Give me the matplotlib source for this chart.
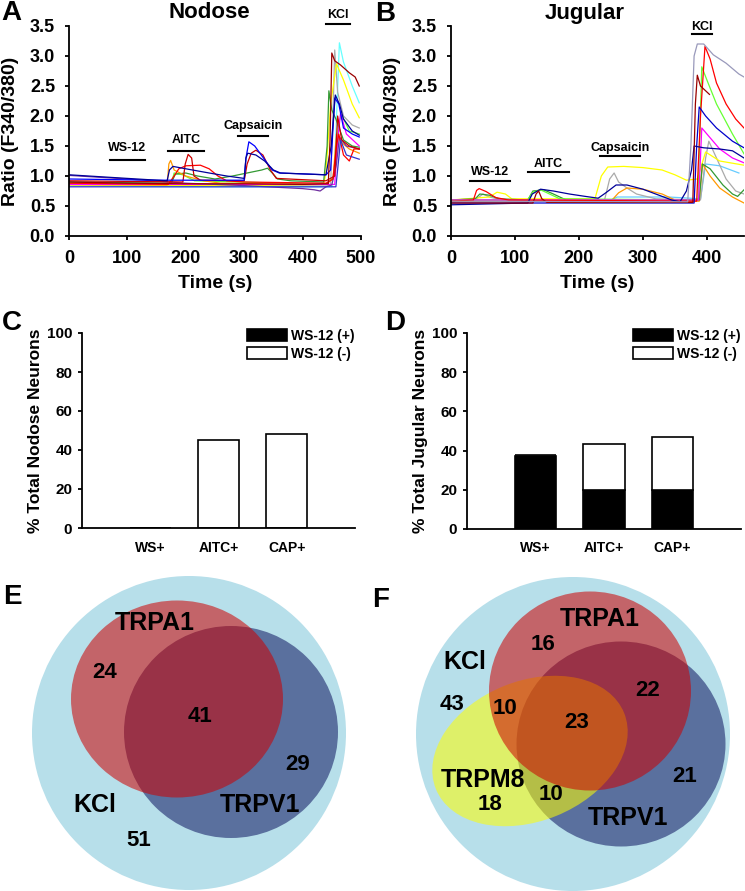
import matplotlib
matplotlib.use('Agg')
import matplotlib.pyplot as plt
from matplotlib.patches import Ellipse, Patch

plt.rcParams['font.family'] = ['Liberation Sans', 'DejaVu Sans']
plt.rcParams['font.weight'] = 'bold'
plt.rcParams['axes.labelweight'] = 'bold'

W, H = 745, 891

# ---- calcium traces, (time s, ratio) ----
nod_darkred = [(0, 0.90), (100, 0.88), (200, 0.87), (300, 0.87), (400, 0.86), (444, 0.87), (447, 1.6),
               (450, 3.05), (455, 2.92), (465, 2.85), (480, 2.72), (490, 2.65), (497, 2.5)]
nod_red = [(0, 0.88), (170, 0.86), (180, 1.0), (188, 1.12), (200, 1.17), (225, 1.18), (240, 1.12), (255, 1.0),
           (270, 0.92), (300, 0.9), (440, 0.88), (452, 0.95), (458, 1.5), (462, 1.7), (470, 1.35), (480, 1.25),
           (488, 1.45), (497, 1.45)]
nod_firebrick = [(0, 0.92), (195, 0.9), (199, 1.2), (204, 1.36), (210, 1.3), (214, 1.0), (225, 0.93), (300, 0.92),
                 (305, 1.2), (312, 1.38), (320, 1.43), (332, 1.35), (345, 1.1), (355, 0.96), (440, 0.92),
                 (455, 1.0), (460, 2.0), (467, 1.6), (480, 1.5), (497, 1.45)]
nod_orange = [(0, 0.86), (168, 0.85), (171, 1.2), (174, 1.26), (180, 1.1), (200, 1.0), (230, 0.92), (260, 0.88),
              (440, 0.86), (452, 0.95), (458, 1.7), (468, 1.55), (480, 1.45), (497, 1.38)]
nod_yellow = [(0, 0.85), (300, 0.84), (436, 0.86), (440, 1.05), (448, 2.2), (458, 2.87), (470, 2.6), (485, 2.2),
              (497, 1.97)]
nod_cyan = [(0, 0.83), (200, 0.82), (450, 0.82), (455, 1.2), (463, 3.22), (470, 2.9), (485, 2.5), (497, 2.22)]
nod_gray = [(0, 0.85), (200, 0.84), (448, 0.85), (452, 2.0), (455, 3.1), (460, 2.4), (470, 2.0), (485, 1.85),
            (497, 1.8)]
nod_blue = [(0, 0.95), (150, 0.93), (300, 0.93), (303, 1.3), (308, 1.57), (318, 1.5), (333, 1.3), (348, 1.1),
            (360, 1.05), (440, 1.02), (448, 1.1), (455, 2.3), (462, 2.2), (470, 1.8), (485, 1.7), (497, 1.65)]
nod_navy = [(0, 1.02), (100, 0.96), (168, 0.92), (172, 1.1), (178, 1.16), (200, 1.12), (240, 1.05), (270, 1.0),
            (300, 0.96), (303, 1.3), (306, 1.38), (320, 1.35), (335, 1.25), (350, 1.1), (362, 1.05), (440, 1.02),
            (449, 1.5), (456, 2.35), (463, 2.2), (470, 1.95), (485, 1.75), (497, 1.68)]
nod_green = [(0, 0.9), (175, 0.88), (182, 1.03), (200, 1.05), (220, 1.0), (250, 0.95), (280, 1.0), (300, 1.04),
             (330, 1.1), (340, 1.13), (348, 1.05), (357, 0.95), (380, 0.92), (436, 0.9), (442, 1.5), (445, 2.42),
             (450, 2.1), (457, 1.95), (470, 1.6), (485, 1.5), (497, 1.48)]
nod_lime = [(0, 0.87), (175, 0.86), (180, 1.05), (195, 1.02), (215, 0.92), (440, 0.86), (455, 1.0), (462, 1.9),
            (467, 2.02), (480, 1.75), (497, 1.7)]
nod_purple = [(0, 1.01), (100, 0.95), (200, 0.88), (300, 0.84), (400, 0.79), (420, 0.77), (430, 0.75),
              (440, 0.82), (450, 0.85), (458, 1.2), (463, 1.65), (475, 1.5), (497, 1.45)]
nod_magenta = [(0, 0.86), (455, 0.86), (460, 1.6), (465, 2.05), (475, 1.7), (497, 1.5)]
nod_blue2 = [(0, 0.82), (457, 0.82), (462, 1.3), (465, 1.6), (475, 1.35), (497, 1.28)]

jug_lavender = [(0, 0.58), (370, 0.57), (375, 1.5), (380, 3.0), (385, 3.2), (395, 3.2), (410, 3.02), (430, 2.88),
                (450, 2.7), (458, 2.65)]
jug_red = [(0, 0.58), (35, 0.6), (40, 0.76), (44, 0.79), (55, 0.74), (70, 0.64), (90, 0.6), (384, 0.58),
           (390, 2.0), (397, 3.16), (405, 2.95), (415, 2.55), (430, 2.2), (445, 1.95), (458, 1.8)]
jug_lime = [(0, 0.6), (120, 0.6), (128, 0.73), (140, 0.77), (150, 0.72), (170, 0.62), (386, 0.6), (392, 2.82),
            (400, 2.6), (415, 2.2), (440, 1.7), (458, 1.37)]
jug_darkred = [(0, 0.55), (128, 0.55), (133, 0.7), (137, 0.75), (142, 0.62), (150, 0.56), (378, 0.56),
               (382, 2.2), (385, 2.68), (390, 2.5), (398, 2.42), (404, 2.36)]
jug_blue = [(0, 0.55), (380, 0.55), (384, 1.5), (388, 2.15), (398, 2.0), (415, 1.8), (440, 1.58), (458, 1.47)]
jug_navy = [(0, 0.52), (120, 0.55), (127, 0.7), (140, 0.78), (160, 0.75), (185, 0.7), (210, 0.66), (230, 0.63),
            (242, 0.72), (258, 0.85), (275, 0.85), (300, 0.78), (320, 0.7), (345, 0.6), (358, 0.57), (368, 0.75),
            (376, 1.1), (380, 1.5), (395, 1.47), (420, 1.45), (440, 1.42), (458, 1.3)]
jug_magenta = [(0, 0.6), (387, 0.6), (392, 1.8), (400, 1.7), (420, 1.45), (440, 1.3), (458, 1.22)]
jug_yellow = [(0, 0.6), (60, 0.65), (72, 0.73), (85, 0.7), (95, 0.62), (225, 0.62), (235, 1.0), (245, 1.15),
              (270, 1.16), (300, 1.14), (330, 1.1), (350, 1.02), (368, 0.93), (385, 0.95), (398, 1.4), (420, 1.25),
              (458, 1.18)]
jug_gray = [(0, 0.6), (40, 0.62), (50, 0.7), (60, 0.65), (80, 0.6), (240, 0.6), (248, 0.95), (255, 1.05),
            (262, 0.9), (275, 0.8), (290, 0.7), (320, 0.62), (390, 0.6), (398, 1.3), (403, 1.58), (415, 1.3),
            (430, 0.95), (445, 0.75), (458, 0.7)]
jug_cyan = [(0, 0.6), (250, 0.6), (260, 0.65), (340, 0.65), (390, 0.62), (398, 1.2), (420, 1.17), (450, 1.05)]
jug_green = [(0, 0.6), (38, 0.62), (45, 0.7), (60, 0.68), (75, 0.62), (120, 0.6), (128, 0.75), (145, 0.77),
             (160, 0.7), (180, 0.6), (388, 0.6), (393, 1.2), (405, 1.12), (425, 0.85), (440, 0.7), (448, 0.66),
             (458, 0.77)]
jug_orange = [(0, 0.58), (250, 0.58), (262, 0.72), (275, 0.8), (300, 0.78), (330, 0.7), (350, 0.6), (388, 0.58),
              (393, 1.2), (405, 1.0), (420, 0.8), (440, 0.65), (458, 0.55)]

nodose_traces = [(nod_cyan, '#66ffff'), (nod_gray, '#aaaaaa'), (nod_yellow, '#ffff00'), (nod_lime, '#66ff33'),
                 (nod_green, '#339933'), (nod_orange, '#ff9900'), (nod_magenta, '#ff00ff'),
                 (nod_purple, '#7030a0'), (nod_red, '#ff0000'), (nod_firebrick, '#cc0000'),
                 (nod_blue2, '#3333cc'), (nod_blue, '#0000ff'), (nod_navy, '#000099'), (nod_darkred, '#990000')]
jugular_traces = [(jug_cyan, '#66ccff'), (jug_gray, '#aaaaaa'), (jug_yellow, '#ffff00'), (jug_orange, '#ff9900'),
                  (jug_green, '#339933'), (jug_lime, '#66ff33'), (jug_magenta, '#ff00ff'), (jug_red, '#ff0000'),
                  (jug_blue, '#0000cc'), (jug_navy, '#000099'), (jug_darkred, '#990000'),
                  (jug_lavender, '#9999bb')]

# drug application bars: (label, start, end, bar y, label y)
nod_drugs = [('WS-12', 70, 130, 1.27, 1.47), ('AITC', 170, 231, 1.42, 1.60),
             ('Capsaicin', 290, 341, 1.67, 1.83), ('KCl', 440, 481, 3.53, 3.68)]
jug_drugs = [('WS-12', 30, 92, 0.92, 1.07), ('AITC', 120, 185, 1.06, 1.20),
             ('Capsaicin', 233, 296, 1.33, 1.47), ('KCl', 376, 408, 3.37, 3.48)]

# ---- bar charts ----
groups = ['WS+', 'AITC+', 'CAP+']
nod_ws_pos = [0, 0, 0]
nod_ws_neg = [0, 45, 48]
jug_ws_pos = [37.5, 20, 20]
jug_ws_neg = [0, 23.6, 26.7]

# ---- Venn counts ----
venn_e = {'TRPA1': 24, 'both': 41, 'TRPV1': 29, 'KCl': 51}
venn_f = {'TRPA1': 16, 'A1V1': 22, 'KCl': 43, 'A1M8': 10, 'all': 23, 'TRPV1': 21, 'TRPM8': 18, 'M8V1': 10}


def box(l, t, r, b):
    return [l / W, 1 - b / H, (r - l) / W, (b - t) / H]


fig = plt.figure(figsize=(W / 100, H / 100), dpi=100)


def trace_panel(rect, traces, drugs, xmax, title, title_x):
    ax = fig.add_axes(rect)
    for pts, c in traces:
        ax.plot([p[0] for p in pts], [p[1] for p in pts], color=c, lw=0.9)
    for name, t0, t1, yb, yl in drugs:
        ax.plot([t0, t1], [yb, yb], color='black', lw=1.5, clip_on=False)
        ax.text((t0 + t1) / 2, yl, name, ha='center', va='center', fontsize=9, fontweight='bold')
    ax.set_xlim(0, xmax)
    ax.set_ylim(0, 3.5)
    ax.set_xticks(range(0, int(xmax) + 1, 100))
    ax.set_yticks([0, 0.5, 1, 1.5, 2, 2.5, 3, 3.5])
    ax.set_yticklabels(['%.1f' % v for v in ax.get_yticks()])
    for s in ['top', 'right']:
        ax.spines[s].set_visible(False)
    for s in ['left', 'bottom']:
        ax.spines[s].set_linewidth(1.3)
    ax.tick_params(direction='out', length=3, width=1.3, labelsize=13, pad=7)
    ax.set_xlabel('Time (s)', fontsize=14, labelpad=6)
    ax.set_ylabel('Ratio (F340/380)', fontsize=14, labelpad=8)
    fig.text(title_x / W, 1 - 13 / H, title, ha='center', va='center', fontsize=16, fontweight='bold')
    return ax


trace_panel(box(69, 26, 361, 236), nodose_traces, nod_drugs, 500, 'Nodose', 209)
trace_panel(box(451, 26, 744, 236), jugular_traces, jug_drugs, 458, 'Jugular', 585)


def bar_panel(rect, pos, neg, ylabel):
    ax = fig.add_axes(rect)
    x = [1, 2, 3]
    ax.bar(x, pos, width=0.6, color='black', edgecolor='black', lw=1.2)
    ax.bar(x, neg, width=0.6, bottom=pos, color='white', edgecolor='black', lw=1.2)
    ax.set_xlim(0, 4)
    ax.set_ylim(0, 100)
    ax.set_xticks(x)
    ax.set_xticklabels(groups, fontsize=10)
    ax.set_yticks(range(0, 101, 20))
    for s in ['top', 'right']:
        ax.spines[s].set_visible(False)
    for s in ['left', 'bottom']:
        ax.spines[s].set_linewidth(1.3)
    ax.tick_params(axis='x', length=0, pad=9)
    ax.tick_params(axis='y', direction='out', length=3, width=1.3, labelsize=11, pad=4)
    ax.set_ylabel(ylabel, fontsize=12.5, labelpad=3)
    handles = [Patch(facecolor='black', edgecolor='black', lw=1.2), Patch(facecolor='white', edgecolor='black', lw=1.2)]
    ax.legend(handles, ['WS-12 (+)', 'WS-12 (-)'], loc='upper right', bbox_to_anchor=(1.0, 1.02),
              frameon=False, fontsize=10, handlelength=2.9, handleheight=0.95, handletextpad=0.3,
              labelspacing=0.25, borderpad=0, borderaxespad=0)
    return ax


bar_panel(box(82, 333, 355, 528), nod_ws_pos, nod_ws_neg, '% Total Nodose Neurons')
bar_panel(box(467, 333, 741, 529), jug_ws_pos, jug_ws_neg, '% Total Jugular Neurons')

# ---- Venn diagrams, drawn in pixel coordinates ----
LB = '#b7dfea'
BLUE = '#5a709e'
RED = '#cd0000'
YEL = '#ffff00'

ax_e = fig.add_axes(box(0, 570, 372, 891))
ax_e.set_xlim(0, 372)
ax_e.set_ylim(891, 570)
ax_e.axis('off')
ax_e.add_patch(Ellipse((189, 733), 314, 314, color=LB, lw=0))
ax_e.add_patch(Ellipse((231, 732), 214, 212, color=BLUE, lw=0))
ax_e.add_patch(Ellipse((177, 699), 212, 197, color=RED, alpha=0.55, lw=0))
e_labels = [('TRPA1', 155, 623, 18), (str(venn_e['TRPA1']), 105, 672, 16), (str(venn_e['both']), 200, 717, 16),
            (str(venn_e['TRPV1']), 298, 765, 16), ('KCl', 95, 805, 18), ('TRPV1', 260, 805, 18),
            (str(venn_e['KCl']), 139, 841, 16)]
for s, x, y, fs in e_labels:
    ax_e.text(x, y, s, ha='center', va='center', fontsize=fs, fontweight='bold')

ax_f = fig.add_axes(box(372, 570, 745, 891))
ax_f.set_xlim(372, 745)
ax_f.set_ylim(891, 570)
ax_f.axis('off')
ax_f.add_patch(Ellipse((573, 734), 314, 314, color=LB, lw=0))
ax_f.add_patch(Ellipse((621, 744), 209, 205, color=BLUE, lw=0))
ax_f.add_patch(Ellipse((530, 751), 203, 140, angle=-22, color=YEL, alpha=0.55, lw=0))
ax_f.add_patch(Ellipse((590, 691), 202, 199, color=RED, alpha=0.55, lw=0))
f_labels = [('TRPA1', 600, 619, 18), (str(venn_f['TRPA1']), 543, 645, 16), ('KCl', 465, 662, 18),
            (str(venn_f['KCl']), 452, 704, 16), (str(venn_f['A1M8']), 505, 708, 16),
            (str(venn_f['all']), 577, 723, 16), (str(venn_f['A1V1']), 648, 690, 16),
            (str(venn_f['TRPV1']), 685, 777, 16), ('TRPM8', 483, 780, 18), (str(venn_f['TRPM8']), 490, 805, 16),
            (str(venn_f['M8V1']), 551, 795, 16), ('TRPV1', 628, 818, 18)]
for s, x, y, fs in f_labels:
    ax_f.text(x, y, s, ha='center', va='center', fontsize=fs, fontweight='bold')

# panel letters
for letter, x, y in [('A', 11, 13), ('B', 385, 14), ('C', 12, 323), ('D', 395, 323), ('E', 12, 597), ('F', 381, 600)]:
    fig.text(x / W, 1 - y / H, letter, ha='center', va='center', fontsize=20, fontweight='bold')

fig.savefig('out.png', dpi=100)
